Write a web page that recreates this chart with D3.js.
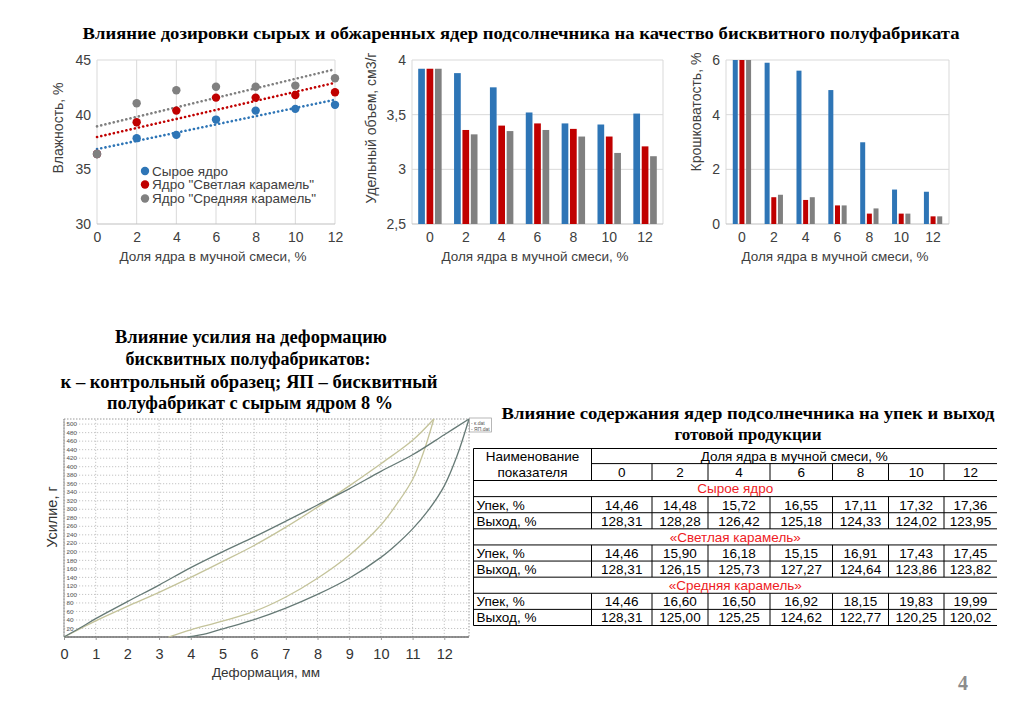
<!DOCTYPE html>
<html><head><meta charset="utf-8">
<script src="https://cdn.jsdelivr.net/npm/d3@7"></script>
<style>body{margin:0;background:#fff}svg{display:block}</style>
</head><body>
<svg id="c" width="1024" height="724"></svg>
<script>
// ---------------- DATA ----------------
const doses = [0, 2, 4, 6, 8, 10, 12];
const seriesNames = ['Сырое ядро', 'Ядро "Светлая карамель"', 'Ядро "Средняя карамель"'];
const seriesColors = ['#2E75B6', '#C00000', '#808080'];

const moistRaw    = [36.4, 37.85, 38.15, 39.55, 40.37, 40.53, 40.9];
const moistLight  = [36.4, 39.3, 40.37, 41.56, 41.56, 41.8, 42.05];
const moistMedium = [36.4, 41.04, 42.23, 42.56, 42.56, 42.66, 43.33];
const moistTicks  = [30, 35, 40, 45];

const volRaw    = [3.92, 3.88, 3.75, 3.52, 3.42, 3.41, 3.51];
const volLight  = [3.92, 3.36, 3.40, 3.42, 3.37, 3.30, 3.21];
const volMedium = [3.92, 3.32, 3.35, 3.36, 3.30, 3.15, 3.12];
const volTicks  = [2.5, 3, 3.5, 4];

const crumbRaw    = [6.0, 5.90, 5.61, 4.90, 2.99, 1.26, 1.18];
const crumbLight  = [6.0, 0.98, 0.88, 0.68, 0.38, 0.38, 0.28];
const crumbMedium = [6.0, 1.07, 0.98, 0.68, 0.57, 0.38, 0.28];
const crumbTicks  = [0, 2, 4, 6];

const deformTicks = [0,1,2,3,4,5,6,7,8,9,10,11,12];
const forceTicks  = [20,40,60,80,100,120,140,160,180,200,220,240,260,280,300,320,340,360,380,400,420,440,460,480,500];
const kLoad   = [[0,0],[0.5,21],[1,43],[2,83],[3,122],[4,163],[5,200],[6,235],[7,272],[8,310],[9,348],[10,389],[11,428],[12,475],[12.78,512]];
const kUnload = [[3.9,0],[4.5,8],[5,19],[6,41],[7,68],[8,100],[9,138],[10,187],[10.5,218],[11,254],[11.5,298],[12,355],[12.4,425],[12.78,512]];
const ypLoad  = [[0,0],[0.5,19],[1,38],[2,72],[3,105],[4,140],[5,177],[6,215],[7,258],[8,305],[9,355],[10,407],[11,462],[11.67,512]];
const ypUnload= [[3.3,0],[4,17],[5,37],[6,60],[7,94],[8,138],[9,192],[10,263],[10.5,312],[11,370],[11.35,435],[11.67,512]];
const curveNames = ['к.dat', 'ЯП.dat'];

const tableCols = ['0','2','4','6','8','10','12'];
const tableSections = ['Сырое ядро', '«Светлая карамель»', '«Средняя карамель»'];
const tableRowLabels = ['Упек, %', 'Выход, %'];
const upekRaw     = ['14,46','14,48','15,72','16,55','17,11','17,32','17,36'];
const vyhodRaw    = ['128,31','128,28','126,42','125,18','124,33','124,02','123,95'];
const upekLight   = ['14,46','15,90','16,18','15,15','16,91','17,43','17,45'];
const vyhodLight  = ['128,31','126,15','125,73','127,27','124,64','123,86','123,82'];
const upekMedium  = ['14,46','16,60','16,50','16,92','18,15','19,83','19,99'];
const vyhodMedium = ['128,31','125,00','125,25','124,62','122,77','120,25','120,02'];

// ---------------- RENDER ----------------
const svg = d3.select('#c');
const SANS = '"Liberation Sans", Arial, sans-serif';
const SERIF = '"Liberation Serif", "Times New Roman", serif';
const TXT = '#404040';
svg.append('rect').attr('width',1024).attr('height',724).attr('fill','#fff');

function title(x, y, txt, size, len) {
  const t = svg.append('text').attr('x', x).attr('y', y).attr('text-anchor','middle')
    .attr('font-family', SERIF).attr('font-weight','bold').attr('font-size', size).attr('fill','#000').text(txt);
  if (len) t.attr('textLength', len).attr('lengthAdjust','spacingAndGlyphs');
}
title(521, 39, 'Влияние дозировки сырых и обжаренных ядер подсолнечника  на качество бисквитного полуфабриката', 16.5, 877);
title(251, 343, 'Влияние усилия на деформацию', 18, 272);
title(248, 365, 'бисквитных полуфабрикатов:', 18, 245);
title(249, 388, 'к – контрольный образец; ЯП – бисквитный', 18, 377);
title(250, 409, 'полуфабрикат с сырым ядром 8 %', 18, 286);
title(748, 419, 'Влияние содержания ядер подсолнечника на упек и выход', 17, 493);
title(748, 440, 'готовой продукции', 17, null);
svg.append('text').attr('x',963).attr('y',690).attr('text-anchor','middle').attr('font-family',SERIF)
  .attr('font-weight','bold').attr('font-size',20).attr('fill','#8c8c8c').text('4');

function axisText(sel, size) {
  sel.select('.domain').remove();
  sel.selectAll('text').attr('font-family', SANS).attr('font-size', size).attr('fill', TXT);
}

// ---------- Chart 1: scatter with trendlines ----------
{
  const g = svg.append('g');
  const x = d3.scaleLinear().domain([0,12]).range([97,335]);
  const y = d3.scaleLinear().domain([30,45]).range([224,60]);
  g.selectAll('line.vg').data(doses).join('line')
    .attr('x1', d=>x(d)).attr('x2', d=>x(d)).attr('y1', y(30)).attr('y2', y(45))
    .attr('stroke', '#d9d9d9').attr('stroke-width', 1);
  g.selectAll('line.hg').data([45]).join('line')
    .attr('x1', x(0)).attr('x2', x(12)).attr('y1', d=>y(d)).attr('y2', d=>y(d))
    .attr('stroke', '#d9d9d9');
  g.append('line').attr('x1', x(0)).attr('x2', x(12)).attr('y1', y(30)).attr('y2', y(30)).attr('stroke','#bfbfbf');
  const ay = g.append('g').attr('transform', `translate(${x(0)},0)`)
    .call(d3.axisLeft(y).tickValues(moistTicks).tickSize(0).tickPadding(6));
  axisText(ay, 14);
  const ax = g.append('g').attr('transform', `translate(0,${y(30)})`)
    .call(d3.axisBottom(x).tickValues(doses).tickSize(0).tickPadding(8));
  axisText(ax, 14);
  g.append('text').attr('x', 213).attr('y', 261).attr('text-anchor','middle').attr('font-family',SANS)
    .attr('font-size',13.5).attr('fill',TXT).text('Доля ядра в мучной смеси, %');
  g.append('text').attr('transform','translate(63,128) rotate(-90)').attr('text-anchor','middle')
    .attr('font-family',SANS).attr('font-size',14).attr('fill',TXT).text('Влажность, %');

  const all = [moistRaw, moistLight, moistMedium];
  all.forEach((vals, i) => {
    const mx = d3.mean(doses), my = d3.mean(vals);
    const slope = d3.sum(doses, (d,j)=>(d-mx)*(vals[j]-my)) / d3.sum(doses, d=>(d-mx)*(d-mx));
    const b = my - slope*mx;
    g.append('line').attr('x1', x(0)).attr('x2', x(12)).attr('y1', y(b)).attr('y2', y(b+slope*12))
      .attr('stroke', seriesColors[i]).attr('stroke-width', 2.6).attr('stroke-linecap','round')
      .attr('stroke-dasharray','0.1 4.2');
  });
  all.forEach((vals, i) => {
    g.selectAll(null).data(vals).join('circle')
      .attr('cx', (d,j)=>x(doses[j])).attr('cy', d=>y(d)).attr('r', 4.2).attr('fill', seriesColors[i]);
  });
  const ly = [171, 184.5, 198.5];
  seriesNames.forEach((n,i) => {
    g.append('circle').attr('cx',145).attr('cy',ly[i]).attr('r',4.2).attr('fill',seriesColors[i]);
    g.append('text').attr('x',152).attr('y',ly[i]).attr('dy','0.35em').attr('font-family',SANS)
      .attr('font-size',13.5).attr('fill',TXT).text(n);
  });
}

// ---------- Bar chart helper ----------
function barChart(opts) {
  const g = svg.append('g');
  const x = d3.scaleBand().domain(doses).range([opts.x0, opts.x1]).paddingInner(opts.pad).paddingOuter(opts.pad/2);
  const xs = d3.scaleBand().domain([0,1,2]).range([0, x.bandwidth()]).paddingInner(opts.subPad);
  const y = d3.scaleLinear().domain(opts.domain).range([224, 60]);
  g.selectAll('line.hg').data(opts.ticks.slice(1)).join('line')
    .attr('x1', opts.x0).attr('x2', opts.x1).attr('y1', d=>y(d)).attr('y2', d=>y(d)).attr('stroke','#d9d9d9');
  g.append('line').attr('x1', opts.x1).attr('x2', opts.x1).attr('y1', y(opts.domain[0])).attr('y2', y(opts.domain[1])).attr('stroke','#d9d9d9');
  g.append('line').attr('x1', opts.x0).attr('x2', opts.x0).attr('y1', y(opts.domain[0])).attr('y2', y(opts.domain[1])).attr('stroke','#d9d9d9');
  g.append('line').attr('x1', opts.x0).attr('x2', opts.x1).attr('y1', y(opts.domain[0])).attr('y2', y(opts.domain[0])).attr('stroke','#bfbfbf');
  opts.series.forEach((vals, i) => {
    g.selectAll(null).data(vals).join('rect')
      .attr('x', (d,j)=>x(doses[j]) + xs(i)).attr('width', xs.bandwidth())
      .attr('y', d=>y(Math.min(d, opts.domain[1]))).attr('height', d=>y(opts.domain[0]) - y(Math.min(d, opts.domain[1])))
      .attr('fill', seriesColors[i]);
  });
  const ay = g.append('g').attr('transform', `translate(${opts.x0},0)`)
    .call(d3.axisLeft(y).tickValues(opts.ticks).tickSize(0).tickPadding(6).tickFormat(d=>String(d).replace('.', ',')));
  axisText(ay, 14);
  const ax = g.append('g').attr('transform', `translate(0,${y(opts.domain[0])})`)
    .call(d3.axisBottom(x).tickSize(0).tickPadding(8));
  axisText(ax, 14);
  g.append('text').attr('x', opts.tx).attr('y', 261).attr('text-anchor','middle').attr('font-family',SANS)
    .attr('font-size',13.5).attr('fill',TXT).text('Доля ядра в мучной смеси, %');
  g.append('text').attr('transform',`translate(${opts.yx},${opts.yy}) rotate(-90)`).attr('text-anchor','middle')
    .attr('font-family',SANS).attr('font-size',14).attr('fill',TXT).text(opts.ylabel);
}
barChart({x0:412, x1:663, pad:0.346, subPad:0.2, domain:[2.5,4], ticks:volTicks,
  series:[volRaw, volLight, volMedium], tx:535, yx:376, yy:128, ylabel:'Удельный объем, см3/г'});
barChart({x0:726, x1:949, pad:0.425, subPad:0.25, domain:[0,6], ticks:crumbTicks,
  series:[crumbRaw, crumbLight, crumbMedium], tx:835, yx:701, yy:112, ylabel:'Крошковатость, %'});

// ---------- Deformation chart ----------
{
  const g = svg.append('g');
  const x = d3.scaleLinear().domain([0,12.78]).range([64,469]);
  const y = d3.scaleLinear().domain([0,512]).range([637,419]);
  g.selectAll('line.hg').data(forceTicks).join('line')
    .attr('x1', x(0)).attr('x2', x(12.78)).attr('y1', d=>y(d)).attr('y2', d=>y(d))
    .attr('stroke','#b5b5b5').attr('stroke-width',0.8).attr('stroke-dasharray','1.2 1.8');
  g.selectAll('line.vg').data(deformTicks.slice(1)).join('line')
    .attr('x1', d=>x(d)).attr('x2', d=>x(d)).attr('y1', y(0)).attr('y2', y(512))
    .attr('stroke','#b5b5b5').attr('stroke-width',0.8).attr('stroke-dasharray','1.2 1.8');
  g.append('rect').attr('x', x(0)).attr('y', y(512)).attr('width', x(12.78)-x(0)).attr('height', y(0)-y(512))
    .attr('fill','none').attr('stroke','#9a9a9a').attr('stroke-width',1).attr('stroke-dasharray','1.5 1.5');
  g.append('line').attr('x1', x(0)).attr('x2', x(12.78)).attr('y1', y(0)).attr('y2', y(0)).attr('stroke','#707070').attr('stroke-width',1.6);
  g.append('line').attr('x1', x(0)).attr('x2', x(0)).attr('y1', y(0)).attr('y2', y(512)).attr('stroke','#9a9a9a').attr('stroke-width',1);
  g.selectAll('text.yt').data(forceTicks).join('text')
    .attr('x', 66.5).attr('y', d=>y(d)).attr('dy','0.35em').attr('font-family',SANS).attr('font-size',6.2)
    .attr('fill','#555').text(d=>d);
  const ax = g.append('g').attr('transform', `translate(0,${y(0)})`)
    .call(d3.axisBottom(x).tickValues(deformTicks).tickSize(3).tickPadding(9).tickFormat(d3.format('d')));
  axisText(ax, 14.5);
  ax.selectAll('line').attr('stroke','#999');
  ax.selectAll('text').attr('fill','#333');
  g.append('text').attr('x', 266).attr('y', 677).attr('text-anchor','middle').attr('font-family',SANS)
    .attr('font-size',13.5).attr('fill','#333').text('Деформация, мм');
  g.append('text').attr('transform','translate(57,517) rotate(-90)').attr('text-anchor','middle')
    .attr('font-family',SANS).attr('font-size',14.5).attr('fill','#333').text('Усилие, г');

  const line = d3.line().x(d=>x(d[0])).y(d=>y(d[1])).curve(d3.curveCatmullRom.alpha(0.5));
  const curves = [[ypLoad,'#c4c39a'],[ypUnload,'#c4c39a'],[kLoad,'#667a76'],[kUnload,'#667a76']];
  curves.forEach(([pts, col]) => {
    g.append('path').attr('d', line(pts)).attr('fill','none').attr('stroke', col).attr('stroke-width', 1.3);
  });
  g.append('rect').attr('x',469.5).attr('y',418).attr('width',22).attr('height',14).attr('fill','#fff').attr('stroke','#999').attr('stroke-width',0.7);
  curveNames.forEach((n,i) => {
    g.append('text').attr('x',471).attr('y',423 + i*6).attr('dy','0.35em').attr('font-family',SANS)
      .attr('font-size',5).attr('fill','#555').text('- ' + n);
  });
}

// ---------- Table ----------
{
  const g = svg.append('g');
  const colEdges = [473.5, 591.5, 652, 708, 770, 832.5, 888.5, 944, 997];
  const top = 448.5, hMid = 463.6, hBot = 480.5, bottom = 625.5;
  const rowH = (bottom - hBot) / 9;
  const rows = [
    [tableSections[0]], [tableRowLabels[0], upekRaw], [tableRowLabels[1], vyhodRaw],
    [tableSections[1]], [tableRowLabels[0], upekLight], [tableRowLabels[1], vyhodLight],
    [tableSections[2]], [tableRowLabels[0], upekMedium], [tableRowLabels[1], vyhodMedium]
  ];
  const L = colEdges[0], R = colEdges[colEdges.length-1];
  const st = s => s.attr('stroke','#000').attr('stroke-width',1);
  st(g.append('line').attr('x1',L).attr('x2',R).attr('y1',top).attr('y2',top));
  st(g.append('line').attr('x1',L).attr('x2',R).attr('y1',bottom).attr('y2',bottom));
  st(g.append('line').attr('x1',L).attr('x2',L).attr('y1',top).attr('y2',bottom));
  st(g.append('line').attr('x1',colEdges[1]).attr('x2',R).attr('y1',hMid).attr('y2',hMid));
  st(g.append('line').attr('x1',colEdges[1]).attr('x2',colEdges[1]).attr('y1',top).attr('y2',hBot));
  colEdges.slice(2,-1).forEach(cx => st(g.append('line').attr('x1',cx).attr('x2',cx).attr('y1',hMid).attr('y2',hBot)));
  for (let r = 0; r < 9; r++) {
    const y0 = hBot + r*rowH;
    st(g.append('line').attr('x1',L).attr('x2',R).attr('y1',y0).attr('y2',y0));
    if (rows[r].length > 1) {
      colEdges.slice(1,-1).forEach(cx => st(g.append('line').attr('x1',cx).attr('x2',cx).attr('y1',y0).attr('y2',y0+rowH)));
    }
  }
  const txt = (x, y, s, anchor, col) => g.append('text').attr('x',x).attr('y',y).attr('dy','0.36em')
    .attr('text-anchor',anchor).attr('font-family',SANS).attr('font-size',13.5).attr('fill',col||'#000').text(s);
  txt((L+colEdges[1])/2, 456.5, 'Наименование', 'middle');
  txt((L+colEdges[1])/2, 472.5, 'показателя', 'middle');
  txt((colEdges[1]+R)/2, 456, 'Доля ядра в мучной смеси, %', 'middle');
  tableCols.forEach((c,i) => txt((colEdges[i+1]+colEdges[i+2])/2, 472.5, c, 'middle'));
  rows.forEach((row, r) => {
    const cy = hBot + r*rowH + rowH/2;
    if (row.length === 1) {
      txt((L+R)/2, cy, row[0], 'middle', '#ee1c25');
    } else {
      txt(L+3, cy, row[0], 'start');
      row[1].forEach((v,i) => txt((colEdges[i+1]+colEdges[i+2])/2, cy, v, 'middle'));
    }
  });
}
</script>
</body></html>
